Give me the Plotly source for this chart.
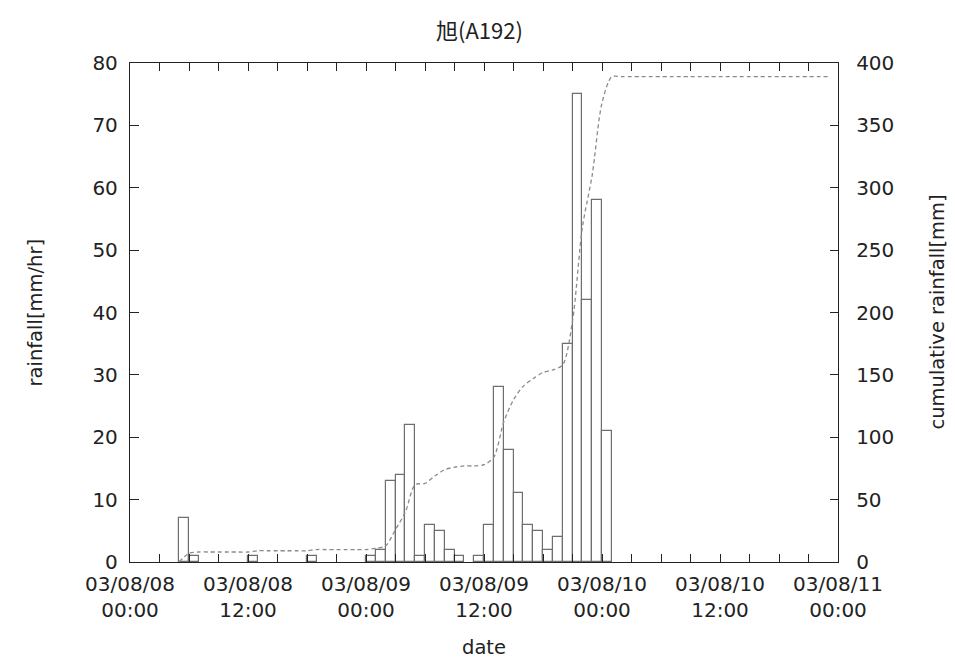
import numpy as np
import pandas as pd
import plotly.graph_objects as go

# ---- data ----
title_text = "旭(A192)"
start_time = "2003-08-08 05:00"          # first hourly record
# hourly rainfall [mm/hr] from 2003-08-08 05:00 to 2003-08-10 23:00
hourly_rain = [
    7, 1, 0, 0, 0, 0, 0,                 # 05-11
    1, 0, 0, 0, 0, 0,                    # 12-17
    1, 0, 0, 0, 0, 0,                    # 18-23
    1, 2, 13, 14, 22, 1, 6, 5, 2, 1, 0, 1,   # 09 00-11
    6, 28, 18, 11, 6, 5, 2, 4, 35, 75, 42, 58,  # 09 12-23
    21, 0, 0, 0, 0, 0, 0, 0, 0, 0, 0, 0,        # 10 00-11
    0, 0, 0, 0, 0, 0, 0, 0, 0, 0, 0,            # 10 12-22
]
x_range = ["2003-08-08 00:00", "2003-08-11 00:00"]
y_left_range = [0, 80]
y_right_range = [0, 400]

# ---- derived ----
bar_starts = pd.date_range(start_time, periods=len(hourly_rain), freq="h")
bar_heights = [v if v > 0 else None for v in hourly_rain]
cum_times = pd.date_range(start_time, periods=len(hourly_rain) + 1, freq="h")
cum_values = np.concatenate([[0], np.cumsum(hourly_rain)])

HOUR_MS = 3600 * 1000
FONT = "DejaVu Sans, Liberation Sans, Arial, sans-serif"
TXT = "#222222"

fig = go.Figure()
fig.add_trace(go.Bar(
    x=bar_starts, y=bar_heights, width=HOUR_MS, offset=0,
    marker=dict(color="rgba(0,0,0,0)", line=dict(color="#6e6e6e", width=1.2)),
    yaxis="y", showlegend=False,
))
fig.add_trace(go.Scatter(
    x=cum_times, y=cum_values, mode="lines",
    line=dict(color="#8a8a8a", width=1.3, dash="4px,3px", shape="spline", smoothing=0.8),
    yaxis="y2", showlegend=False,
))

fig.update_layout(
    width=955, height=660,
    margin=dict(l=130, r=117, t=63, b=98, autoexpand=False),
    paper_bgcolor="white", plot_bgcolor="white",
    font=dict(family=FONT, size=20, color=TXT),
    bargap=0,
    title=dict(text=title_text, x=0.502, xanchor="center", y=1 - 31 / 660, yanchor="middle",
               yref="container",
               font=dict(family="Noto Sans CJK JP, Liberation Sans, sans-serif", size=22, color=TXT)),
    xaxis=dict(
        type="date", range=x_range, automargin=False,
        tick0="2003-08-08", dtick=12 * HOUR_MS,
        tickformat="%y/%m/%d<br>%H:%M",
        ticks="inside", ticklen=8, tickwidth=1.2, tickcolor="#222",
        minor=dict(dtick=3 * HOUR_MS, ticks="inside", ticklen=4, tickwidth=1.2, tickcolor="#222"),
        showline=True, linecolor="#222", linewidth=1.3, mirror="allticks",
        showgrid=False, zeroline=False,
        tickfont=dict(size=20, color=TXT),
        ticklabelstandoff=4,
    ),
    yaxis=dict(
        range=y_left_range, dtick=10, automargin=False,
        ticks="inside", ticklen=9, tickwidth=1.2, tickcolor="#222",
        showline=True, linecolor="#222", linewidth=1.3,
        showgrid=False, zeroline=False,
        tickfont=dict(size=20, color=TXT),
        ticklabelstandoff=7,
    ),
    yaxis2=dict(
        range=y_right_range, dtick=50, overlaying="y", side="right", automargin=False,
        ticks="inside", ticklen=8, tickwidth=1.2, tickcolor="#222",
        showline=True, linecolor="#222", linewidth=1.3,
        showgrid=False, zeroline=False,
        tickfont=dict(size=20, color=TXT),
        ticklabelstandoff=13,
    ),
)

fig.add_annotation(text="date", xref="paper", yref="paper", x=0.5, y=0,
                   yshift=-85, showarrow=False, font=dict(size=19.5, color=TXT),
                   xanchor="center", yanchor="middle")
fig.add_annotation(text="rainfall[mm/hr]", xref="paper", yref="paper", x=0, y=0.5,
                   xshift=-95, showarrow=False, textangle=-90, font=dict(size=19.5, color=TXT),
                   xanchor="center", yanchor="middle")
fig.add_annotation(text="cumulative rainfall[mm]", xref="paper", yref="paper", x=1, y=0.5,
                   xshift=99, showarrow=False, textangle=-90, font=dict(size=19.5, color=TXT),
                   xanchor="center", yanchor="middle")

fig.write_html("out.html", config={"displayModeBar": False},
               post_script="document.body.style.margin='0px';document.body.style.overflow='hidden';")
